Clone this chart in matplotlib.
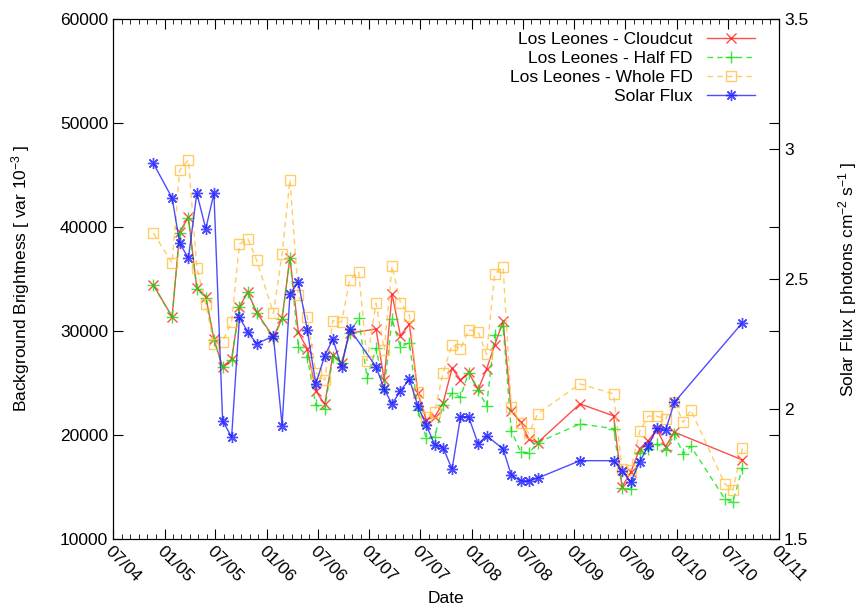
import numpy as np
import pandas as pd
import matplotlib
matplotlib.use("Agg")
import matplotlib.pyplot as plt
import matplotlib.dates as mdates
from matplotlib.ticker import MultipleLocator, FuncFormatter

plt.rcParams['font.family'] = ['Liberation Sans', 'DejaVu Sans']
plt.rcParams['mathtext.default'] = 'regular'

# monthly measurement dates
dates = pd.to_datetime([
    "2004-11-22", "2005-01-28", "2005-02-24", "2005-03-27", "2005-04-26", "2005-05-28",
    "2005-06-26", "2005-07-27", "2005-08-28", "2005-09-25", "2005-10-25", "2005-11-25",
    "2006-01-24", "2006-02-24", "2006-03-24", "2006-04-23", "2006-05-25", "2006-06-24",
    "2006-07-26", "2006-08-24", "2006-09-24", "2006-10-23", "2006-11-24", "2006-12-24",
    "2007-01-25", "2007-02-23", "2007-03-23", "2007-04-22", "2007-05-24", "2007-06-23",
    "2007-07-23", "2007-08-22", "2007-09-21", "2007-10-23", "2007-11-22", "2007-12-21",
    "2008-01-24", "2008-02-23", "2008-03-23", "2008-04-22", "2008-05-21", "2008-06-23",
    "2008-07-23", "2008-08-23", "2009-01-21", "2009-05-21", "2009-06-20", "2009-07-21",
    "2009-08-22", "2009-09-21", "2009-10-22", "2009-11-22", "2009-12-24", "2010-01-24",
    "2010-02-20", "2010-06-21", "2010-07-20", "2010-08-23",
])

nan = np.nan
cloudcut = [
    34400, 31360, 39530, 40910, 34090, 33290, 29190, 26560, 27270, 32330, 33710, 31790,
    29390, 31210, 37030, 29850, 28280, 24230, 22930, 27690, 26890, 29770, nan, nan,
    30180, 25280, 33520, 29540, 30660, 24010, 21440, 21760, 23050, 26410, 25280, 26000,
    24370, 26320, 28650, 30920, 22330, 21220, 19590, 19260, 22980, 21830, 15010, 16400,
    18680, 19440, 20520, 18880, 20260, nan, nan, nan, nan, 17600,
]
half_fd = [
    34400, 31300, 39400, 40800, 34000, 33200, 29100, 26500, 27200, 32300, 33700, 31700,
    29300, 31100, 37000, 28480, 27520, 22880, 22470, 27520, 26890, 29800, 31210, 25450,
    28330, 24420, 31110, 28480, 28870, 22400, 19680, 19840, 22880, 24010, 23620, 25990,
    24320, 22790, 29610, 30440, 20410, 18400, 18240, 19260, 21060, 20610, 14930, 14760,
    18290, 18670, 19120, 18590, 20050, 18180, 18910, 13880, 13560, 16800,
]
whole_fd = [
    39400, 36500, 45460, 46420, 36070, 32580, 28740, 28960, 30880, 38350, 38830, 36810,
    31690, 37390, 44500, 33420, 31360, 25990, 25280, 30980, 30830, 34890, 35690, 27140,
    32650, 28170, 36230, 32710, 31460, 24160, 21760, 22240, 25990, 28650, 28260, 30090,
    29920, 27730, 35490, 36110, 22690, 21120, 20160, 22020, 24900, 23940, 16730, 16640,
    20360, 21800, 21800, 21540, 23140, 21200, 22400, 15320, 14690, 18720,
]
solar_flux = [
    2.944, 2.810, 2.637, 2.579, 2.829, 2.692, 2.829, 1.955, 1.891, 2.352, 2.295, 2.251,
    2.279, 1.936, 2.441, 2.488, 2.303, 2.096, 2.204, 2.269, 2.160, 2.307, nan, nan,
    2.162, 2.076, 2.018, 2.070, 2.114, 2.011, 1.938, 1.862, 1.851, 1.768, 1.970, 1.970,
    1.865, 1.897, nan, 1.846, 1.746, 1.723, 1.723, 1.734, 1.801, 1.801, 1.763, 1.718,
    1.797, 1.856, 1.926, 1.917, 2.026, nan, nan, nan, nan, 2.331,
]


def valid(vals):
    # drop missing months so the line stays connected
    v = np.asarray(vals, dtype=float)
    m = ~np.isnan(v)
    return dates[m], v[m]


fig = plt.figure(figsize=(8.59, 6.10), dpi=100)
ax = fig.add_axes([0.1315, 0.1164, 0.7755, 0.8531])
ax2 = ax.twinx()

d, v = valid(cloudcut)
l1, = ax.plot(d, v, color='#ff2020', lw=1, alpha=0.8, marker='x', ms=7, mew=1,
              label='Los Leones - Cloudcut')
d, v = valid(half_fd)
l2, = ax.plot(d, v, color='#10e010', lw=1, alpha=0.8, ls=(0, (4, 3)), marker='+', ms=8, mew=1,
              label='Los Leones - Half FD')
d, v = valid(whole_fd)
l3, = ax.plot(d, v, color='#ffc040', lw=1, alpha=0.8, ls=(0, (4, 3)), marker='s', ms=6.5,
              mfc='none', mew=1, label='Los Leones - Whole FD')
d, v = valid(solar_flux)
l4, = ax2.plot(d, v, color='#2020ff', lw=1, alpha=0.8, marker=(8, 2, 0), ms=8, mew=1,
               label='Solar Flux')

ax.set_xlim(pd.Timestamp("2004-07-01"), pd.Timestamp("2011-01-01"))
ax.set_ylim(10000, 60000)
ax2.set_ylim(1.5, 3.5)

ax.xaxis.set_major_locator(mdates.MonthLocator(bymonth=[1, 7]))
ax.xaxis.set_minor_locator(mdates.MonthLocator())
ax.xaxis.set_major_formatter(mdates.DateFormatter('%m/%y'))
ax.yaxis.set_major_locator(MultipleLocator(10000))
ax2.yaxis.set_major_locator(MultipleLocator(0.5))
ax2.yaxis.set_major_formatter(FuncFormatter(lambda x, p: '%g' % x))

ax.tick_params(axis='both', which='major', direction='in', length=7, labelsize=12.5,
               top=True, right=True, labelright=False)
ax.tick_params(axis='x', which='minor', direction='in', length=3.5, top=True)
ax2.tick_params(axis='y', direction='in', length=7, labelsize=12.5)
for lab in ax.get_xticklabels():
    lab.set_rotation(-45)
    lab.set_ha('left')
    lab.set_rotation_mode('anchor')

ax.set_xlabel('Date', fontsize=12.5)
ax.set_ylabel('Background Brightness [ var 10$^{-3}$ ]', fontsize=12.5, labelpad=20)
ax2.set_ylabel('Solar Flux [ photons cm$^{-2}$ s$^{-1}$ ]', fontsize=12.5, labelpad=20)

ax2.legend(handles=[l1, l2, l3, l4], loc='upper right', frameon=False, markerfirst=False,
           fontsize=12.5, handlelength=2.8, labelspacing=0.22, borderaxespad=0.2,
           bbox_to_anchor=(0.98, 0.995))

fig.savefig('out.png', dpi=100)
